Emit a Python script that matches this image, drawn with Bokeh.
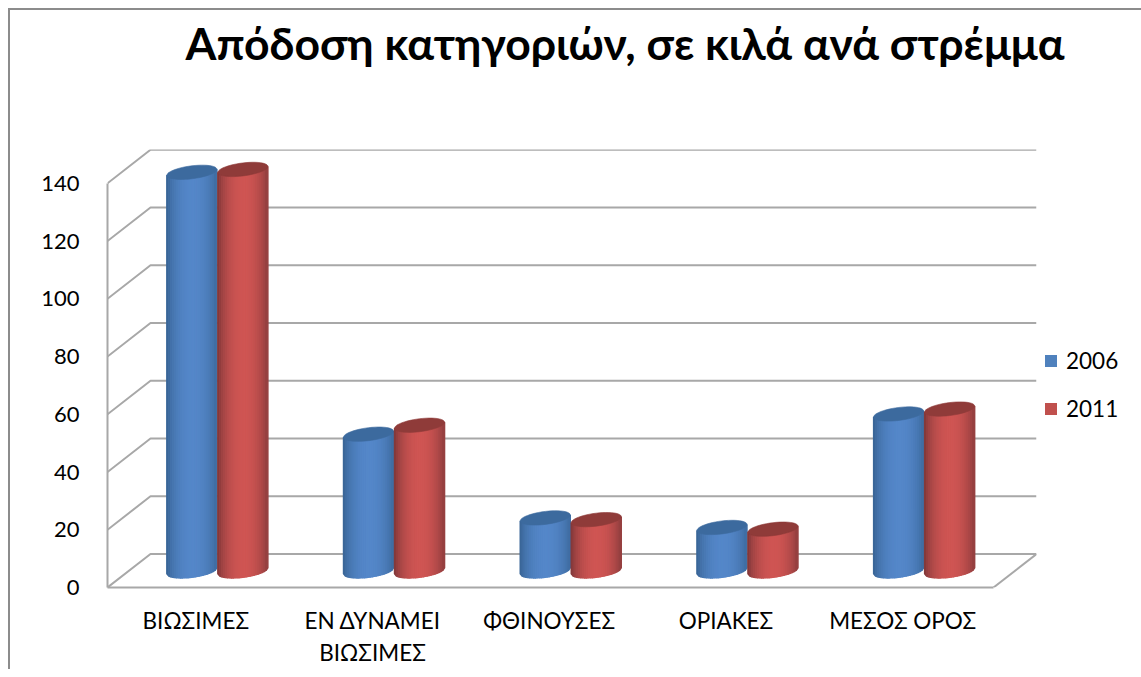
import math
from bokeh.embed import file_html
from bokeh.resources import INLINE
from bokeh.plotting import figure
from bokeh.models import (ColumnDataSource, FixedTicker, Legend, LegendItem, Range1d, Title)

TITLE = "Απόδοση κατηγοριών, σε κιλά ανά στρέμμα"
categories = ["ΒΙΩΣΙΜΕΣ", "ΕΝ ΔΥΝΑΜΕΙ\nΒΙΩΣΙΜΕΣ", "ΦΘΙΝΟΥΣΕΣ", "ΟΡΙΑΚΕΣ", "ΜΕΣΟΣ ΟΡΟΣ"]
values_2006 = [138, 47.3, 18.3, 15, 54.3]
values_2011 = [139, 50.4, 17.7, 14.4, 56]
y_ticks = [0, 20, 40, 60, 80, 100, 120, 140]

FONT = "Lato"
FW, FH = 929, 438
SLOT = 176.7
Y_MAX = 151.7
UY = FH / Y_MAX
DX = 43 / SLOT
DY = 33.5 / UY
X0 = -0.5
X_END = X0 + FW / SLOT
XF = X_END - DX
HW = 25.0 / SLOT
B = 6.5 / UY
TILT = 3.0 / UY
N = 26

p = figure(width=1125, height=661, output_backend="svg", toolbar_location=None,
           x_range=Range1d(X0, X_END), y_range=Range1d(0, Y_MAX),
           frame_width=FW, frame_height=FH,
           min_border_left=97, min_border_right=97, min_border_top=139, min_border_bottom=82,
           outline_line_color=None, background_fill_color="white", border_fill_color="white",
           margin=(8, 0, 0, 8))
p.styles = {"border-left": "2px solid #8c8c8c", "border-top": "2px solid #8c8c8c"}
p.grid.visible = False

p.title.text = TITLE
p.title.text_font = FONT
p.title.text_font_style = "bold"
p.title.text_font_size = "44.5px"
p.title.text_color = "black"
p.title.align = "left"
p.title.offset = 78
p.title.vertical_align = "top"
p.title.standoff = 0
p.add_layout(Title(text=" ", text_font_size="2px", standoff=75), "above")

GRID = "#a8a8a8"

# axes
ya = p.yaxis[0]
ya.ticker = FixedTicker(ticks=y_ticks)
ya.bounds = (0, 140)
ya.major_tick_line_color = None
ya.minor_tick_line_color = None
ya.axis_line_color = GRID
ya.axis_line_width = 2
ya.major_label_text_font = FONT
ya.major_label_text_font_size = "22px"
ya.major_label_text_color = "black"
ya.major_label_standoff = 22

xa = p.xaxis[0]
xa.ticker = FixedTicker(ticks=list(range(len(categories))))
xa.major_label_overrides = {i: c for i, c in enumerate(categories)}
xa.bounds = (X0, XF)
xa.major_tick_line_color = None
xa.minor_tick_line_color = None
xa.axis_line_color = GRID
xa.axis_line_width = 2
xa.major_label_text_font = FONT
xa.major_label_text_font_size = "22.5px"
xa.major_label_text_color = "black"
xa.major_label_standoff = 13

# walls
gx, gy = [], []
for v in y_ticks:
    gx.append([X0, X0 + DX, X_END])
    gy.append([v, v + DY, v + DY])
gx.append([X_END, XF])
gy.append([DY, 0])
p.multi_line(gx, gy, line_color=GRID, line_width=2)


def mix(a, b, t):
    return "#%02x%02x%02x" % tuple(round(a[i] + (b[i] - a[i]) * t) for i in range(3))


def rim(y, u):
    return y + TILT * u - B * math.sqrt(max(0, 1 - u * u))


def cyl(xc, v, edge, mid, cap):
    base = DY / 2
    top = base + v
    xs, ys, cs = [], [], []
    for i in range(N):
        u0, u1 = -1 + 2 * i / N, -1 + 2 * (i + 1) / N
        um = (u0 + u1) / 2
        t = max(0, 1 - abs(um - 0.05) ** 2) ** 0.8
        xs.append([xc + u0 * HW, xc + u1 * HW, xc + u1 * HW, xc + u0 * HW])
        ys.append([rim(base, u0), rim(base, u1), rim(top, u1), rim(top, u0)])
        cs.append(mix(edge, mid, t))
    p.patches(xs, ys, fill_color=cs, line_color=cs, line_width=1.5)
    m = 48
    ex, ey = [], []
    for k in range(m):
        a = 2 * math.pi * k / m
        ex.append(xc + HW * math.cos(a))
        ey.append(top + TILT * math.cos(a) + B * math.sin(a))
    p.patch(ex, ey, fill_color=cap, line_color=cap, line_width=0.6)


BLUE_E, BLUE_M = (58, 102, 152), (84, 135, 201)
RED_E, RED_M = (132, 57, 58), (207, 85, 83)
mid_off = DX / 2
OFF = 25.5 / SLOT
idx = list(range(len(categories)))
src_a = ColumnDataSource(dict(x=[i + mid_off - OFF for i in idx], top=[v + DY / 2 for v in values_2006], bottom=[DY / 2] * 5))
src_b = ColumnDataSource(dict(x=[i + mid_off + OFF for i in idx], top=[v + DY / 2 for v in values_2011], bottom=[DY / 2] * 5))
ra = p.vbar(x="x", top="top", bottom="bottom", width=HW * 1.4, source=src_a, fill_color="#4f81bd", line_color=None)
rb = p.vbar(x="x", top="top", bottom="bottom", width=HW * 1.4, source=src_b, fill_color="#c0504d", line_color=None)
for i in idx:
    cyl(i + mid_off - OFF, values_2006[i], BLUE_E, BLUE_M, "#3c6a9e")
    cyl(i + mid_off + OFF, values_2011[i], RED_E, RED_M, "#8f3b39")

legend = Legend(items=[LegendItem(label="2006", renderers=[ra]), LegendItem(label="2011", renderers=[rb])],
                location=(7, 164), orientation="vertical", border_line_color=None,
                background_fill_alpha=0, margin=0, padding=0, spacing=18,
                glyph_width=15, glyph_height=15, label_standoff=8, label_height=30,
                label_text_font=FONT, label_text_font_size="22.5px", label_text_color="black")
p.add_layout(legend, "right")

open("out.html", "w").write(file_html(p, INLINE))
